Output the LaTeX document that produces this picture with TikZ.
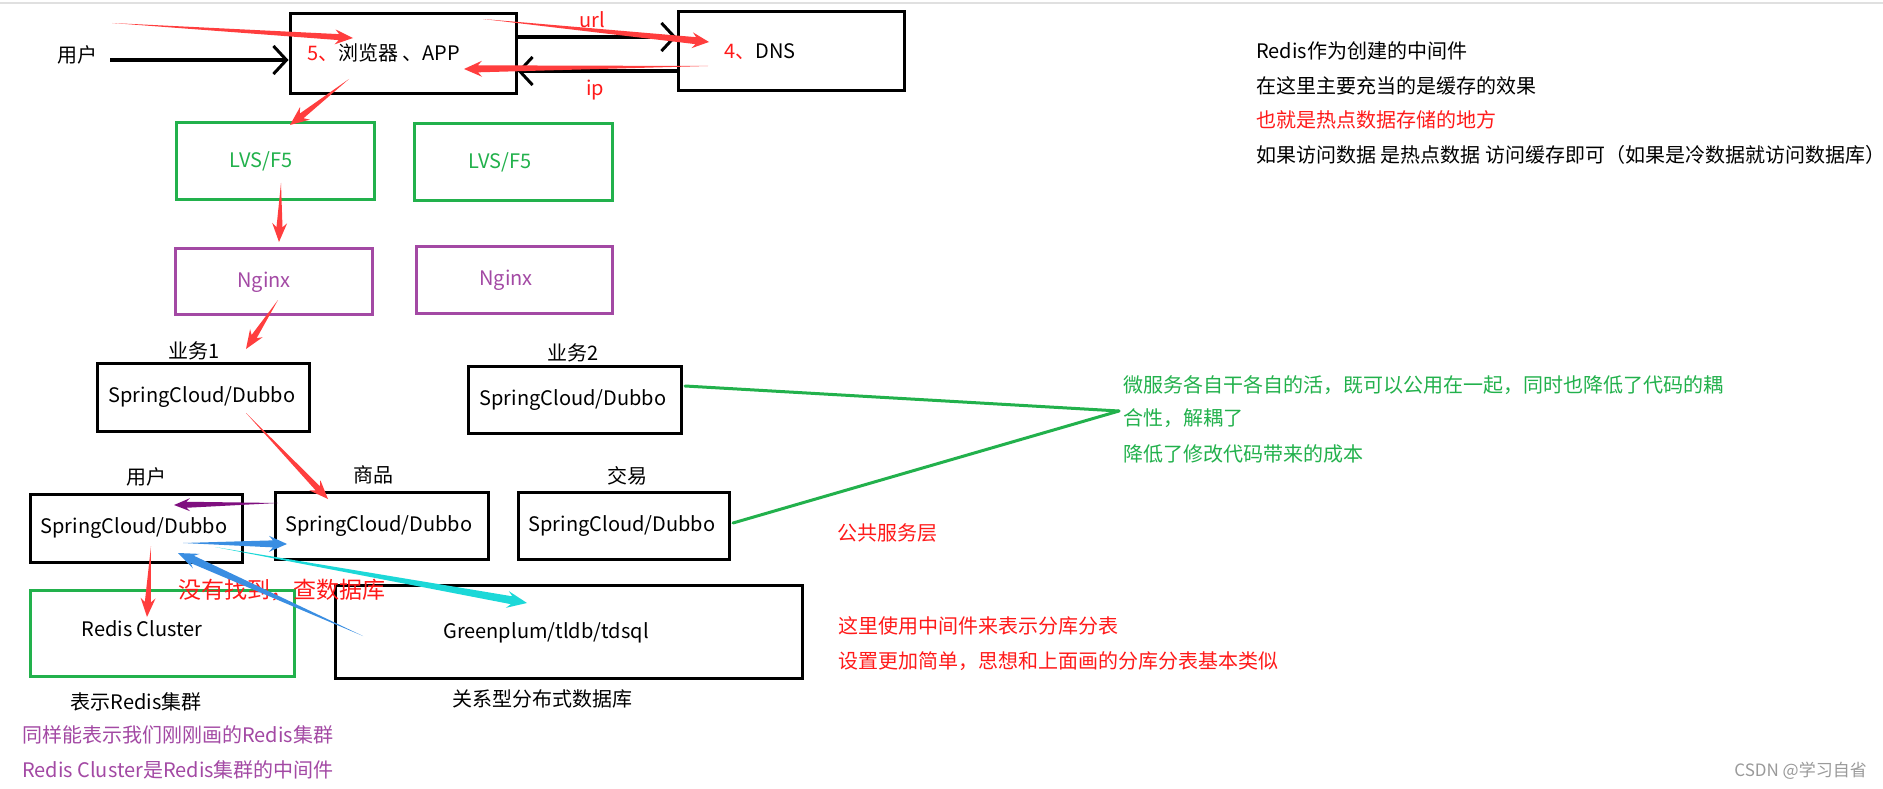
\documentclass[tikz,border=0pt]{standalone}
\usepackage{fontspec}
\setmainfont{Noto Sans CJK SC}
\usetikzlibrary{calc,arrows.meta}
\definecolor{pgreen}{HTML}{22B14C}
\definecolor{ppurple}{HTML}{A349A4}
\definecolor{ared}{HTML}{FF3E3E}
\definecolor{tred}{HTML}{FF1A1A}
\definecolor{dpurple}{HTML}{7F0F7F}
\definecolor{ablue}{HTML}{3A8EE2}
\definecolor{acyan}{HTML}{1CD8D8}
\definecolor{wmgray}{HTML}{9A9A9A}
% tapered "brush" arrow: colour, tail, tip, head length, shaft half width, head half width
\newcommand\tparrow[6]{%
  \coordinate (tpN) at ($(#3)!#4*0.78pt!(#2)$);
  \coordinate (tpB) at ($(#3)!#4*1pt!(#2)$);
  \fill[#1] (#2) -- ($(tpN)!#5pt!90:(#3)$) -- ($(tpB)!#6pt!90:(#3)$) -- (#3)
    -- ($(tpB)!#6pt!-90:(#3)$) -- ($(tpN)!#5pt!-90:(#3)$) -- cycle;}
\begin{document}
\begin{tikzpicture}[x=1pt,y=-1pt,
  font=\fontsize{20}{24}\selectfont,
  bx/.style={draw=black, line width=3pt, inner sep=0pt},
  gbx/.style={bx, draw=pgreen},
  pbx/.style={bx, draw=ppurple},
  txt/.style={inner sep=0pt, anchor=center},
  ltxt/.style={inner sep=0pt, anchor=west},
  blkarr/.style={line width=3.5pt, -{Straight Barb[length=13pt,width=28pt,line width=3pt]}},
  gline/.style={pgreen, line width=3pt, line cap=round}]
\useasboundingbox (0,0) rectangle (1883,789);
\fill[white] (0,0) rectangle (1883,789);
\draw[black!12, line width=1.5pt] (0,3) -- (1883,3);

% boxes
\node[bx, minimum width=226pt, minimum height=80pt] (br) at (403,54) {};
\node[bx, minimum width=226pt, minimum height=79pt] (dns) at (791,51.5) {};
\node[gbx, minimum width=198pt, minimum height=76pt] (lvsa) at (275,161) {};
\node[gbx, minimum width=198pt, minimum height=76pt] (lvsb) at (513,162) {};
\node[pbx, minimum width=197pt, minimum height=66pt] (nga) at (273.5,281) {};
\node[pbx, minimum width=196pt, minimum height=67pt] (ngb) at (514,279.5) {};
\node[bx, minimum width=212pt, minimum height=68pt] (sca) at (203,397) {};
\node[bx, minimum width=213pt, minimum height=67pt] (scb) at (574.5,399.5) {};
\node[bx, minimum width=212pt, minimum height=68pt] (scu) at (136,528) {};
\node[bx, minimum width=213pt, minimum height=67pt] (scg) at (381.5,525.5) {};
\node[bx, minimum width=211pt, minimum height=67pt] (scj) at (623.5,525.5) {};
\node[gbx, minimum width=264pt, minimum height=86pt] (redis) at (162,633) {};
\node[bx, minimum width=467pt, minimum height=93pt] (gp) at (568.5,631.5) {};

% texts
\node[txt] (tuser) at (77,55) {用户};
\node[ltxt] (tbr) at (307,53) {{\color{tred}5、}浏览器 、APP};
\node[ltxt] (tdns) at (724,52) {{\color{tred}4、}DNS};
\node[txt, text=tred] (turl) at (592,20) {url};
\node[txt, text=tred] (tip) at (595,90) {ip};
\node[txt, text=pgreen] (tlvsa) at (261,161) {LVS/F5};
\node[txt, text=pgreen] (tlvsb) at (500,162) {LVS/F5};
\node[txt, text=ppurple] (tnga) at (264,282) {Nginx};
\node[txt, text=ppurple] (tngb) at (506,280) {Nginx};
\node[txt] (tywa) at (194,351) {业务1};
\node[txt] (tywb) at (573,353) {业务2};
\node[txt] (tsca) at (202,397) {SpringCloud/Dubbo};
\node[txt] (tscb) at (573,400) {SpringCloud/Dubbo};
\node[txt] (tlu) at (146,477) {用户};
\node[txt] (tlg) at (373,475) {商品};
\node[txt] (tlj) at (627,476) {交易};
\node[txt] (tscu) at (134,528) {SpringCloud/Dubbo};
\node[txt] (tscg) at (379,526) {SpringCloud/Dubbo};
\node[txt] (tscj) at (622,526) {SpringCloud/Dubbo};
\node[txt] (tredis) at (142,629) {Redis Cluster};
\node[txt] (tgp) at (546,633) {Greenplum/tldb/tdsql};
\node[txt] (tredisc) at (136,702) {表示Redis集群};
\node[txt] (tgpc) at (542,699) {关系型分布式数据库};
\node[ltxt, text=ppurple] (np1) at (22,735) {同样能表示我们刚刚画的Redis集群};
\node[ltxt, text=ppurple] (np2) at (22,770) {Redis Cluster是Redis集群的中间件};
\node[ltxt] (nr1) at (1256,51) {Redis作为创建的中间件};
\node[ltxt] (nr2) at (1256,86) {在这里主要充当的是缓存的效果};
\node[ltxt, text=tred] (nr3) at (1256,120) {也就是热点数据存储的地方};
\node[ltxt] (nr4) at (1256,155) {如果访问数据 是热点数据 访问缓存即可（如果是冷数据就访问数据库）};
\node[ltxt, text=pgreen] (ng1) at (1123,385) {微服务各自干各自的活，既可以公用在一起，同时也降低了代码的耦};
\node[ltxt, text=pgreen] (ng2) at (1123,418) {合性，解耦了};
\node[ltxt, text=pgreen] (ng3) at (1123,454) {降低了修改代码带来的成本};
\node[txt, text=tred] (tggfw) at (887,533) {公共服务层};
\node[ltxt, text=tred] (nd1) at (838,626) {这里使用中间件来表示分库分表};
\node[ltxt, text=tred] (nd2) at (838,661) {设置更加简单，思想和上面画的分库分表基本类似};
\node[ltxt, text=tred, font=\fontsize{23}{26}\selectfont] (tnf) at (178,590) {没有找到，查数据库};
\node[txt, anchor=east, text=wmgray, font=\fontsize{17}{20}\selectfont] (wm) at (1867,771) {CSDN @学习自省};

% black connectors
\coordinate (ue) at (110,60);
\draw[blkarr] (ue) -- (ue -| br.west);
\coordinate (bu) at (516,37);
\draw[blkarr] (bu) -- (bu -| dns.west);
\coordinate (dl) at (678,71);
\draw[blkarr] (dl) -- (dl -| br.east);

% green connectors
\coordinate (gm) at (1119,411);
\draw[gline] (685,386) coordinate (gsb) -- (gm);
\draw[gline] (733,523) coordinate (gsj) -- (gm);

% red brush arrows
\coordinate (a1t) at (112,23); \coordinate (a1h) at (353,38);
\tparrow{ared}{a1t}{a1h}{18}{3}{7.5}
\coordinate (a2t) at (483,19); \coordinate (a2h) at (709,42);
\tparrow{ared}{a2t}{a2h}{17}{3.5}{8}
\coordinate (a3t) at (708,66); \coordinate (a3h) at (464,69);
\tparrow{ared}{a3t}{a3h}{18}{3.5}{8}
\coordinate (a4t) at (349,79); \coordinate (a4h) at (290,125);
\tparrow{ared}{a4t}{a4h}{19}{3}{8}
\coordinate (a5t) at (281,183); \coordinate (a5h) at (279,242);
\tparrow{ared}{a5t}{a5h}{19}{3}{7.5}
\coordinate (a6t) at (278,300); \coordinate (a6h) at (246,349);
\tparrow{ared}{a6t}{a6h}{19}{3}{7.5}
\coordinate (a7t) at (246,413); \coordinate (a7h) at (328,499);
\tparrow{ared}{a7t}{a7h}{19}{3}{7.5}
\coordinate (a8t) at (151,546); \coordinate (a8h) at (147,617);
\tparrow{ared}{a8t}{a8h}{19}{3}{7.5}
% purple, blue, cyan arrows
\coordinate (p1t) at (278,503); \coordinate (p1h) at (174,505);
\tparrow{dpurple}{p1t}{p1h}{16}{3}{6.5}
\coordinate (b1t) at (183,543); \coordinate (b1h) at (287,544);
\tparrow{ablue}{b1t}{b1h}{18}{3.5}{8}
\coordinate (c1t) at (215,547); \coordinate (c1h) at (527,603);
\tparrow{acyan}{c1t}{c1h}{20}{4}{8.5}
\coordinate (b2t) at (363,636); \coordinate (b2h) at (178,553);
\tparrow{ablue}{b2t}{b2h}{20}{4}{8}
\end{tikzpicture}
\end{document}
